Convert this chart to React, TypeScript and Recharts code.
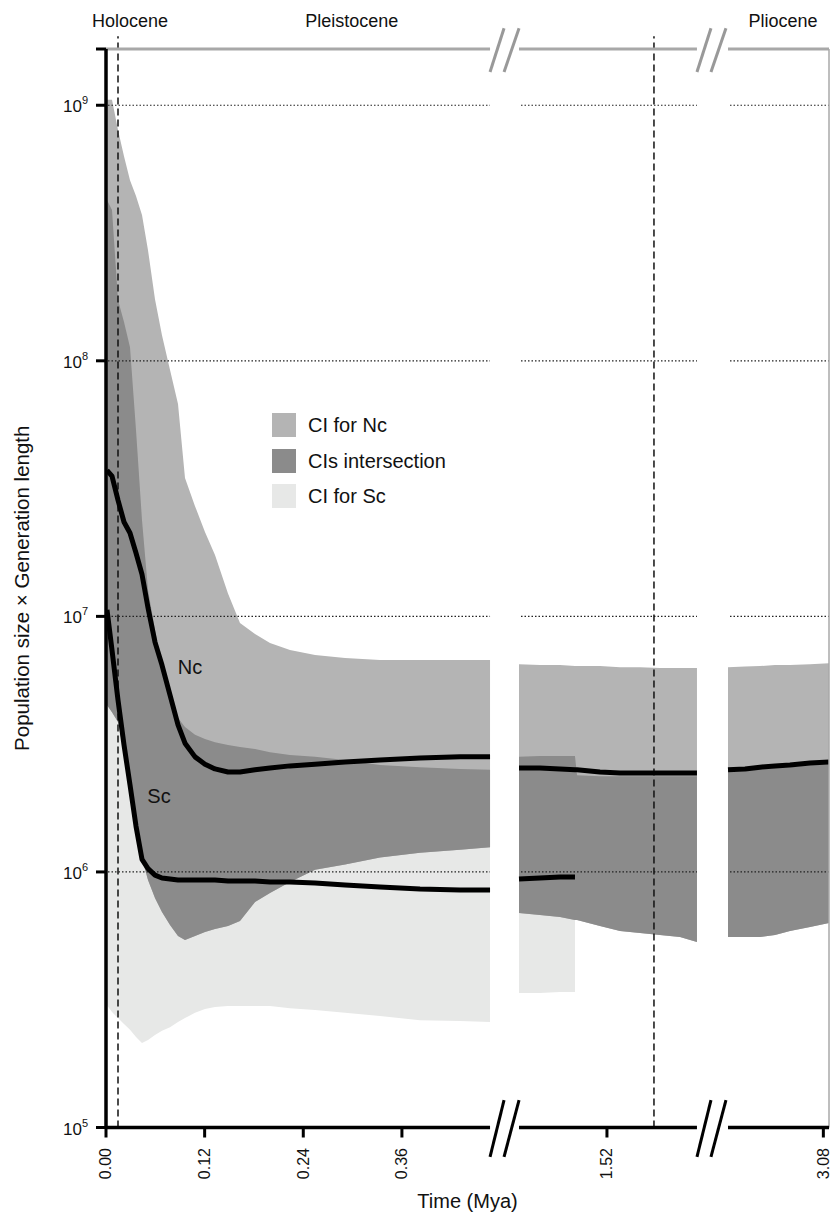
import React from 'react';
import { ComposedChart, Area, Line, XAxis, YAxis, ReferenceLine, ReferenceDot, Legend } from 'recharts';

// time before present (Mya), three broken segments of the axis
const timeMya = [
  0.0012, 0.0073, 0.0146, 0.0219, 0.0292, 0.0365, 0.0438, 0.0511, 0.0596, 0.0681, 0.0779, 0.0876, 0.0961, 0.1083,
  0.1204, 0.1326, 0.1484, 0.163, 0.1813, 0.1995, 0.2238, 0.2543, 0.2908, 0.3333, 0.382, 0.4307, 0.4672,
  1.413, 1.4385, 1.4629, 1.4811, 1.4836, 1.5115, 1.5359, 1.5602, 1.5845, 1.6089, 1.6295,
  2.964, 2.9847, 3.0029, 3.0212, 3.0394, 3.0638, 3.0869,
];

// median curves
const ncLine = [
  3.73e7, 3.54e7, 2.85e7, 2.34e7, 2.12e7, 1.77e7, 1.46e7, 1.08e7, 7.93e6, 6.45e6, 4.92e6, 3.76e6, 3.19e6, 2.82e6,
  2.64e6, 2.53e6, 2.46e6, 2.46e6, 2.51e6, 2.55e6, 2.6e6, 2.64e6, 2.69e6, 2.74e6, 2.79e6, 2.82e6, 2.82e6,
  2.55e6, 2.55e6, 2.53e6, 2.51e6, 2.51e6, 2.46e6, 2.44e6, 2.44e6, 2.44e6, 2.44e6, 2.44e6,
  2.51e6, 2.53e6, 2.57e6, 2.6e6, 2.62e6, 2.67e6, 2.69e6,
];
const scLine = [
  1.06e7, 7.38e6, 4.71e6, 3.14e6, 2.19e6, 1.51e6, 1.12e6, 1.03e6, 9.72e5, 9.47e5, 9.38e5, 9.3e5, 9.3e5, 9.3e5,
  9.3e5, 9.3e5, 9.21e5, 9.21e5, 9.21e5, 9.13e5, 9.13e5, 9.05e5, 8.89e5, 8.73e5, 8.57e5, 8.5e5, 8.5e5,
  9.38e5, 9.47e5, 9.55e5, 9.55e5, null, null, null, null, null, null, null,
  null, null, null, null, null, null, null,
];

// band edges: top of Nc CI, top / bottom of the overlap, bottom of Sc CI
const ciNcHigh = [
  1.05e9, 1.05e9, 8.0e8, 6.32e8, 5.09e8, 4.41e8, 3.72e8, 2.71e8, 1.74e8, 1.26e8, 9.2e7, 6.77e7, 3.48e7, 2.7e7,
  2.14e7, 1.74e7, 1.23e7, 9.42e6, 8.53e6, 7.87e6, 7.38e6, 7.06e6, 6.87e6, 6.75e6, 6.75e6, 6.75e6, 6.75e6,
  6.5e6, 6.45e6, 6.45e6, 6.39e6, 6.39e6, 6.39e6, 6.33e6, 6.33e6, 6.28e6, 6.28e6, 6.28e6,
  6.33e6, 6.36e6, 6.39e6, 6.45e6, 6.45e6, 6.5e6, 6.56e6,
];
const ciSharedHigh = [
  4.26e8, 3.89e8, 1.73e8, 1.42e8, 1.13e8, 5.36e7, 2.38e7, 1.27e7, 8.84e6, 6.45e6, 4.71e6, 4.0e6, 3.69e6, 3.44e6,
  3.31e6, 3.22e6, 3.14e6, 3.08e6, 3.03e6, 2.94e6, 2.87e6, 2.82e6, 2.74e6, 2.62e6, 2.57e6, 2.53e6, 2.51e6,
  2.82e6, 2.84e6, 2.84e6, 2.84e6, 2.39e6, 2.37e6, 2.37e6, 2.37e6, 2.37e6, 2.37e6, 2.37e6,
  2.46e6, 2.48e6, 2.53e6, 2.55e6, 2.57e6, 2.62e6, 2.64e6,
];
const ciSharedLow = [
  4.5e6, 4.22e6, 3.86e6, 2.94e6, 2.09e6, 1.53e6, 1.13e6, 9.3e5, 7.91e5, 6.97e5, 6.2e5, 5.61e5, 5.42e5, 5.61e5,
  5.82e5, 5.98e5, 6.14e5, 6.43e5, 7.62e5, 8.27e5, 9.13e5, 1.02e6, 1.07e6, 1.14e6, 1.19e6, 1.22e6, 1.25e6,
  6.91e5, 6.78e5, 6.66e5, 6.48e5, 6.48e5, 6.14e5, 5.87e5, 5.77e5, 5.66e5, 5.56e5, 5.32e5,
  5.56e5, 5.56e5, 5.56e5, 5.66e5, 5.87e5, 6.09e5, 6.31e5,
];
const ciScLow = [
  3.01e5, 2.83e5, 2.68e5, 2.54e5, 2.41e5, 2.26e5, 2.14e5, 2.2e5, 2.3e5, 2.39e5, 2.47e5, 2.59e5, 2.68e5, 2.81e5,
  2.91e5, 2.96e5, 2.99e5, 2.99e5, 2.99e5, 2.99e5, 2.93e5, 2.88e5, 2.81e5, 2.73e5, 2.63e5, 2.61e5, 2.59e5,
  3.36e5, 3.36e5, 3.39e5, 3.39e5, null, null, null, null, null, null, null,
  null, null, null, null, null, null, null,
];

const timeTicks = [0, 0.12, 0.24, 0.36, 1.52, 3.08];
const yTicks = [1e5, 1e6, 1e7, 1e8, 1e9];
const Y_MIN = 1e5;
const Y_MAX = 1.66e9;
const epochNames = ['Holocene', 'Pleistocene', 'Pliocene'];
const epochLabelAt = [0.0292, 0.299, 3.031];
const epochBoundaries = [0.0146, 1.5772];
const curveLabels = [
  { text: 'Nc', t: 0.1022, v: 6.33e6 },
  { text: 'Sc', t: 0.0645, v: 1.98e6 },
];

const MID = '#b4b4b4';
const DARK = '#8b8b8b';
const LIGHT = '#e7e8e7';
const legendItems = [
  { label: 'CI for Nc', color: MID },
  { label: 'CIs intersection', color: DARK },
  { label: 'CI for Sc', color: LIGHT },
];

// broken time axis: each piece keeps the same Mya -> px scale
const SEGMENTS = [
  { from: 0, to: 0.4672, start: 0 },
  { from: 1.413, to: 1.6295, start: 413 },
  { from: 2.964, to: 3.0869, start: 622 },
];
const PX_PER_MYA = 822;
const X_MAX = 723;

const segIndex = (t: number) => SEGMENTS.findIndex((s) => t >= s.from - 1e-9 && t <= s.to + 1e-9);
const toX = (t: number) => {
  const s = SEGMENTS[segIndex(t)];
  return s.start + (t - s.from) * PX_PER_MYA;
};
const segEnd = (i: number) => SEGMENTS[i].start + (SEGMENTS[i].to - SEGMENTS[i].from) * PX_PER_MYA;

const rows: any[] = [];
timeMya.forEach((t, i) => {
  const seg = segIndex(t);
  if (i > 0 && seg !== segIndex(timeMya[i - 1])) {
    rows.push({ x: (segEnd(seg - 1) + SEGMENTS[seg].start) / 2 });
  }
  rows.push({
    x: toX(t),
    nc: ncLine[i],
    sc: scLine[i],
    ncHigh: ciNcHigh[i],
    sharedHigh: ciSharedHigh[i],
    sharedLow: ciSharedLow[i],
    scLow: ciScLow[i],
  });
});

const tickXs = timeTicks.map(toX);
const epochXs = epochLabelAt.map(toX);

const TimeTick = ({ x, y, payload }: any) => {
  const i = tickXs.findIndex((v) => Math.abs(v - payload.value) < 0.01);
  return (
    <text x={x} y={y} transform={`rotate(-90, ${x}, ${y})`} textAnchor="end" dy="0.33em" fontSize={16} fill="#111">
      {i >= 0 ? timeTicks[i].toFixed(2) : ''}
    </text>
  );
};

const PowerTick = ({ x, y, payload }: any) => {
  if (!yTicks.includes(payload.value)) return <g />;
  const exp = Math.round(Math.log10(payload.value));
  return (
    <text x={x} y={y} textAnchor="end" fontSize={17} fill="#111">
      <tspan dy={7}>10</tspan>
      <tspan dy={-8} fontSize={11}>{exp}</tspan>
    </text>
  );
};

const LegendBox = () => (
  <div style={{ display: 'flex', flexDirection: 'column', gap: 11.5 }}>
    {legendItems.map((item) => (
      <div key={item.label} style={{ display: 'flex', alignItems: 'center', height: 24 }}>
        <span style={{ width: 24, height: 24, background: item.color, marginRight: 12 }} />
        <span style={{ fontSize: 20, color: '#111', lineHeight: '24px' }}>{item.label}</span>
      </div>
    ))}
  </div>
);

const breakMarks = (yLow: number, yHigh: number) =>
  SEGMENTS.slice(1).flatMap((_, k) => {
    const gs = segEnd(k);
    return [
      [{ x: gs, y: yLow }, { x: gs + 14, y: yHigh }],
      [{ x: gs + 14, y: yLow }, { x: gs + 29, y: yHigh }],
    ];
  });

export default function App() {
  const pieces = SEGMENTS.map((s, i) => [s.start, segEnd(i)]);
  return (
    <div style={{ fontFamily: '"Liberation Sans", Arial, Helvetica, sans-serif', width: 831 }}>
      {/* the chart uses the whole window, so drop the default body margin */}
      <style>{'body { margin: 0; }'}</style>
      <ComposedChart width={831} height={1215} data={rows} margin={{ top: 0, right: 2, bottom: 0, left: 0 }}>
        <XAxis
          xAxisId="epoch"
          orientation="top"
          type="number"
          dataKey="x"
          domain={[0, X_MAX]}
          allowDataOverflow
          ticks={epochXs}
          interval={0}
          tickFormatter={(v: number) => epochNames[epochXs.findIndex((e) => Math.abs(e - v) < 0.01)] ?? ''}
          axisLine={false}
          tickLine={false}
          tickSize={0}
          tickMargin={22}
          height={49}
          tick={{ fontSize: 18, fill: '#111' }}
        />
        <XAxis
          type="number"
          dataKey="x"
          domain={[0, X_MAX]}
          allowDataOverflow
          ticks={tickXs}
          interval={0}
          axisLine={false}
          tickLine={{ stroke: '#000', strokeWidth: 3 }}
          tickSize={10}
          tickMargin={10.5}
          height={87.5}
          tick={<TimeTick />}
          label={{ value: 'Time (Mya)', position: 'insideBottom', offset: 7, style: { fontSize: 20, fill: '#111' } }}
        />
        <YAxis
          scale="log"
          domain={[Y_MIN, Y_MAX]}
          allowDataOverflow
          ticks={[...yTicks, Y_MAX]}
          interval={0}
          width={106}
          tickSize={10}
          tickMargin={8}
          axisLine={{ stroke: '#000', strokeWidth: 3.5 }}
          tickLine={{ stroke: '#000', strokeWidth: 3 }}
          tick={<PowerTick />}
          label={{
            value: 'Population size × Generation length',
            angle: -90,
            position: 'insideLeft',
            offset: 22,
            style: { textAnchor: 'middle', fontSize: 20.5, fill: '#111' },
          }}
        />
        <Legend verticalAlign="middle" align="center" content={<LegendBox />} wrapperStyle={{ left: 272, top: 413, width: 'auto' }} />

        <Area
          dataKey={(r: any) => (r.scLow == null ? null : [r.scLow, r.sharedHigh])}
          fill={LIGHT}
          fillOpacity={1}
          stroke="none"
          isAnimationActive={false}
          activeDot={false}
          legendType="none"
        />
        <Area
          dataKey={(r: any) => (r.sharedLow == null ? null : [r.sharedLow, r.ncHigh])}
          fill={MID}
          fillOpacity={1}
          stroke="none"
          isAnimationActive={false}
          activeDot={false}
          legendType="none"
        />
        <Area
          dataKey={(r: any) => (r.sharedLow == null ? null : [r.sharedLow, r.sharedHigh])}
          fill={DARK}
          fillOpacity={1}
          stroke="none"
          isAnimationActive={false}
          activeDot={false}
          legendType="none"
        />

        {yTicks.slice(1).flatMap((v) =>
          pieces.map(([a, b], i) => (
            <ReferenceLine
              key={`grid-${v}-${i}`}
              segment={[{ x: a + 2, y: v }, { x: b, y: v }]}
              stroke="#222"
              strokeWidth={1.2}
              strokeDasharray="1.5 2"
              ifOverflow="visible"
            />
          ))
        )}
        {epochBoundaries.map((t) => (
          <ReferenceLine
            key={`epoch-${t}`}
            segment={[{ x: toX(t), y: Y_MIN }, { x: toX(t), y: 1.86e9 }]}
            stroke="#111"
            strokeWidth={1.5}
            strokeDasharray="7 4"
            ifOverflow="visible"
          />
        ))}

        <Line dataKey="nc" stroke="#000" strokeWidth={5} dot={false} activeDot={false} isAnimationActive={false} legendType="none" strokeLinejoin="round" />
        <Line dataKey="sc" stroke="#000" strokeWidth={5} dot={false} activeDot={false} isAnimationActive={false} legendType="none" strokeLinejoin="round" />

        {pieces.map(([a, b], i) => (
          <ReferenceLine key={`top-${i}`} segment={[{ x: a, y: Y_MAX }, { x: b, y: Y_MAX }]} stroke="#a8a8a8" strokeWidth={3} ifOverflow="visible" />
        ))}
        <ReferenceLine segment={[{ x: X_MAX, y: Y_MIN }, { x: X_MAX, y: Y_MAX }]} stroke="#a8a8a8" strokeWidth={1.5} ifOverflow="visible" />
        {pieces.map(([a, b], i) => (
          <ReferenceLine key={`bottom-${i}`} segment={[{ x: a, y: Y_MIN }, { x: b, y: Y_MIN }]} stroke="#000" strokeWidth={3.5} ifOverflow="visible" />
        ))}
        {breakMarks(7.67e4, 1.28e5).map((seg, i) => (
          <ReferenceLine key={`bb-${i}`} segment={seg} stroke="#000" strokeWidth={3} ifOverflow="visible" />
        ))}
        {breakMarks(1.35e9, 2.0e9).map((seg, i) => (
          <ReferenceLine key={`tb-${i}`} segment={seg} stroke="#999" strokeWidth={3} ifOverflow="visible" />
        ))}

        {curveLabels.map((c) => (
          <ReferenceDot
            key={c.text}
            x={toX(c.t)}
            y={c.v}
            r={0}
            fill="none"
            stroke="none"
            ifOverflow="visible"
            label={{ value: c.text, position: 'center', fontSize: 20, fill: '#111' }}
          />
        ))}
      </ComposedChart>
    </div>
  );
}
